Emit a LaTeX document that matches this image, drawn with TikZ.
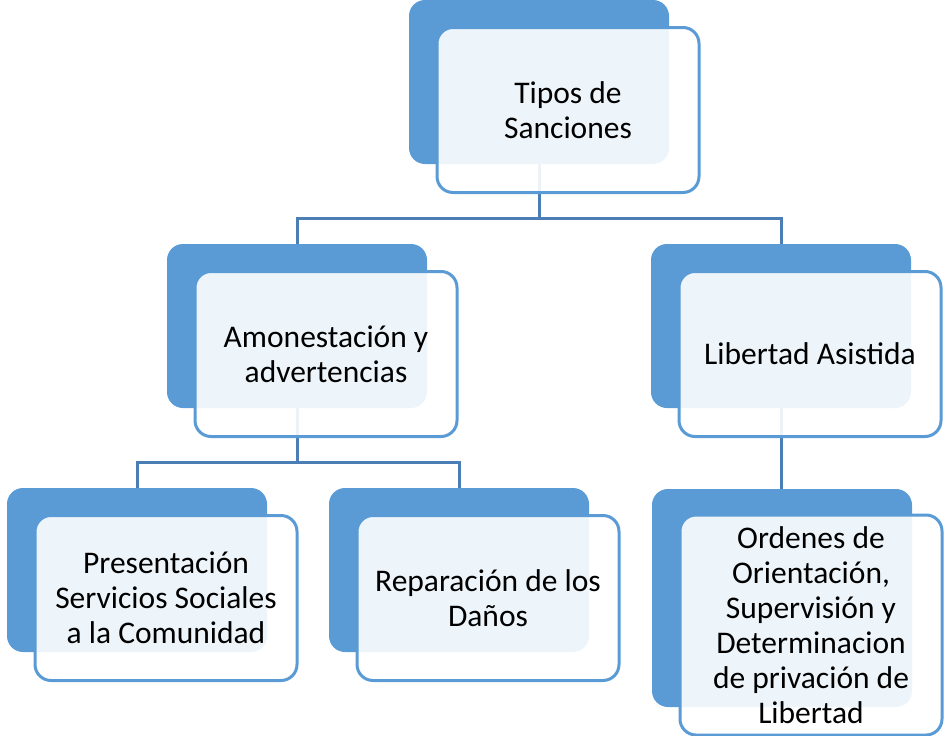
\documentclass[tikz,border=0pt]{standalone}
\usepackage{fontspec}
\setmainfont{Carlito}
\usetikzlibrary{positioning}
\definecolor{boxblue}{HTML}{5B9BD5}
\definecolor{linkblue}{HTML}{4A7EB5}

\begin{document}
\begin{tikzpicture}[x=1pt,y=-1pt,
      back node/.style={rectangle,rounded corners=16pt,fill=boxblue,inner sep=0pt,minimum width=260pt,minimum height=164pt},
      main node/.style={rectangle,rounded corners=16pt,draw=boxblue,line width=3pt,fill=white,fill opacity=0.9,text opacity=1,
        inner sep=0pt,minimum width=262pt,minimum height=165pt,align=center,xshift=29pt,yshift=-28pt,
        font=\fontsize{31.5}{35}\selectfont},
      link/.style={draw=linkblue,line width=3pt}]

      \useasboundingbox (0,0) rectangle (945,736);

      % connectors first, boxes on top
      \coordinate (bus1) at (539,218);
      \coordinate (bus2) at (297,462);
      \draw[link] (539,82) -- (bus1) -| (297,326);
      \draw[link] (bus1) -| (781,326);
      \draw[link] (297,326) -- (bus2) -| (137,570);
      \draw[link] (bus2) -| (459,570);
      \draw[link] (781,326) -- (781,598);

      \node[back node] (tb) at (539,82) {};
      \node[back node] (ab) at (297,326) {};
      \node[back node] (lb) at (781,326) {};
      \node[back node] (pb) at (137,570) {};
      \node[back node] (rb) at (459,570) {};
      \node[back node, minimum height=218pt] (ob) at (782,598) {};

      \node[main node] (T) at (tb) {Tipos de\\Sanciones};
      \node[main node] (A) at (ab) {Amonestación y\\advertencias};
      \node[main node] (L) at (lb) {Libertad Asistida};
      \node[main node] (P) at (pb) {Presentación\\Servicios Sociales\\a la Comunidad};
      \node[main node] (R) at (rb) {Reparación de los\\Daños};
      \node[main node, minimum height=220pt, yshift=1pt] (O) at (ob) {Ordenes de\\Orientación,\\Supervisión y\\Determinacion\\de privación de\\Libertad};
    \end{tikzpicture}
\end{document}
